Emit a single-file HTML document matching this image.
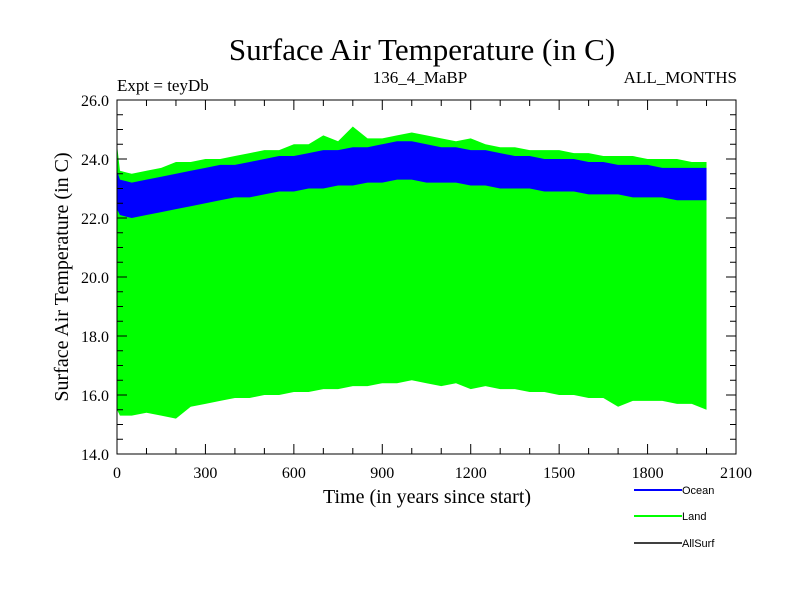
<!DOCTYPE html>
<html><head><meta charset="utf-8"><style>
body{margin:0;background:#fff}
svg text{font-family:"Liberation Serif",serif}
</style></head><body>
<svg id="c" width="800" height="600" xmlns="http://www.w3.org/2000/svg">
<text x="422" y="60" font-size="31" text-anchor="middle">Surface Air Temperature (in C)</text>
<text x="117" y="91" font-size="17">Expt = teyDb</text>
<text x="420" y="83" font-size="17" text-anchor="middle">136_4_MaBP</text>
<text x="737" y="83" font-size="17" text-anchor="end">ALL_MONTHS</text>
<g id="plot"></g>
<g id="axes"></g>
<text x="427" y="503" font-size="20" text-anchor="middle">Time (in years since start)</text>
<text transform="translate(68,277) rotate(-90)" font-size="20" text-anchor="middle">Surface Air Temperature (in C)</text>
<g font-family="Liberation Sans" font-size="11">
<g><line x1="634" y1="490" x2="682" y2="490" stroke="#0000ff" stroke-width="2"/><text x="682" y="494" style="font-family:'Liberation Sans',sans-serif">Ocean</text></g>
<g><line x1="634" y1="516" x2="682" y2="516" stroke="#00ff00" stroke-width="2"/><text x="682" y="520" style="font-family:'Liberation Sans',sans-serif">Land</text></g>
<g><line x1="634" y1="543" x2="682" y2="543" stroke="#000" stroke-width="1.5"/><text x="682" y="547" style="font-family:'Liberation Sans',sans-serif">AllSurf</text></g>
</g>
</svg>
<script>
const years=[0,10,50,100,150,200,250,300,350,400,450,500,550,600,650,700,750,800,850,900,950,1000,1050,1100,1150,1200,1250,1300,1350,1400,1450,1500,1550,1600,1650,1700,1750,1800,1850,1900,1950,2000];
const landMax=[24.5,23.6,23.5,23.6,23.7,23.9,23.9,24.0,24.0,24.1,24.2,24.3,24.3,24.5,24.5,24.8,24.6,25.1,24.7,24.7,24.8,24.9,24.8,24.7,24.6,24.7,24.5,24.4,24.4,24.3,24.3,24.3,24.2,24.2,24.1,24.1,24.1,24.0,24.0,24.0,23.9,23.9];
const oceanMax=[23.6,23.3,23.2,23.3,23.4,23.5,23.6,23.7,23.8,23.8,23.9,24.0,24.1,24.1,24.2,24.3,24.3,24.4,24.4,24.5,24.6,24.6,24.5,24.4,24.4,24.3,24.3,24.2,24.1,24.1,24.0,24.0,24.0,23.9,23.9,23.8,23.8,23.8,23.7,23.7,23.7,23.7];
const oceanMin=[22.3,22.1,22.0,22.1,22.2,22.3,22.4,22.5,22.6,22.7,22.7,22.8,22.9,22.9,23.0,23.0,23.1,23.1,23.2,23.2,23.3,23.3,23.2,23.2,23.2,23.1,23.1,23.0,23.0,23.0,22.9,22.9,22.9,22.8,22.8,22.8,22.7,22.7,22.7,22.6,22.6,22.6];
const landMin=[15.5,15.3,15.3,15.4,15.3,15.2,15.6,15.7,15.8,15.9,15.9,16.0,16.0,16.1,16.1,16.2,16.2,16.3,16.3,16.4,16.4,16.5,16.4,16.3,16.4,16.2,16.3,16.2,16.2,16.1,16.1,16.0,16.0,15.9,15.9,15.6,15.8,15.8,15.8,15.7,15.7,15.5];
const xTicks=[0,300,600,900,1200,1500,1800,2100];
const yTicks=[14,16,18,20,22,24,26];
const X0=117,X1=736,Y0=454,Y1=100;
const xs=v=>X0+(v/2100)*(X1-X0);
const ys=v=>Y0-(v-14)/12*(Y0-Y1);
const NS="http://www.w3.org/2000/svg";
const plot=document.getElementById('plot'),axes=document.getElementById('axes');
function band(lo,hi,col,name){
  let pts=years.map((y,i)=>xs(y)+','+ys(hi[i]));
  for(let i=years.length-1;i>=0;i--)pts.push(xs(years[i])+','+ys(lo[i]));
  const p=document.createElementNS(NS,'polygon');
  p.setAttribute('points',pts.join(' '));p.setAttribute('fill',col);
  
  
  plot.appendChild(p);
}
band(landMin,landMax,'#00ff00','land-series');
band(oceanMin,oceanMax,'#0000ff','ocean-series');
function el(t,a){const e=document.createElementNS(NS,t);for(const k in a)e.setAttribute(k,a[k]);axes.appendChild(e);return e;}
const fr=el('rect',{x:X0,y:Y1,width:X1-X0,height:Y0-Y1,fill:'none',stroke:'#000','stroke-width':1});


for(let v=0;v<=2100;v+=100){const m=v%300===0,L=m?10:6;
  el('line',{x1:xs(v),x2:xs(v),y1:Y0,y2:Y0-L,stroke:'#000'});el('line',{x1:xs(v),x2:xs(v),y1:Y1,y2:Y1+L,stroke:'#000'});}
for(let v=14;v<=26.01;v+=0.5){const m=Math.abs(v%2)<0.01,L=m?10:6;
  el('line',{x1:X0,x2:X0+L,y1:ys(v),y2:ys(v),stroke:'#000'});el('line',{x1:X1,x2:X1-L,y1:ys(v),y2:ys(v),stroke:'#000'});}
xTicks.forEach(v=>{const t=el('text',{x:xs(v),y:Y0+24,'font-size':16,'text-anchor':'middle'});t.textContent=v;
  
  });
yTicks.forEach(v=>{const t=el('text',{x:X0-8,y:ys(v)+6,'font-size':16,'text-anchor':'end'});t.textContent=v.toFixed(1);
  
  });
</script>
</body></html>
